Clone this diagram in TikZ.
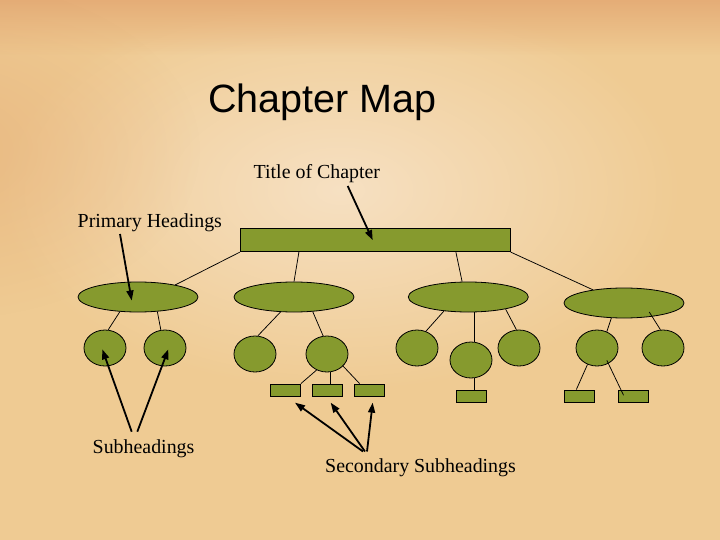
\documentclass[tikz,border=0pt]{standalone}
\usepackage{fontspec}
\setmainfont{Liberation Serif}
\newfontfamily\titlefont{Liberation Sans}
\usetikzlibrary{shapes.geometric,arrows.meta,fadings}
\definecolor{bgbase}{HTML}{EFCB93}
\definecolor{bglight}{HTML}{F6E0C2}
\definecolor{bgdark}{HTML}{E4AA74}
\definecolor{olive}{HTML}{869A2E}
\tikzfading[name=fadedown, top color=transparent!0, bottom color=transparent!100]
\tikzfading[name=fadeout, inner color=transparent!0, outer color=transparent!100]
\tikzset{
  shp/.style={draw=black, line width=0.8pt, fill=olive, inner sep=0pt},
  bigell/.style={shp, ellipse, minimum width=120pt, minimum height=30pt},
  sub/.style={shp, ellipse, minimum width=42pt, minimum height=36pt},
  toprect/.style={shp, rectangle, minimum width=270pt, minimum height=23pt},
  small/.style={shp, rectangle, minimum width=30.5pt, minimum height=12.7pt},
  link/.style={draw=black, line width=0.75pt},
  pointer/.style={draw=black, line width=1.8pt, -{Triangle[length=10pt,width=7pt]}},
  lbl/.style={inner sep=0pt, anchor=base west, font=\fontsize{19.9}{22}\selectfont}
}
\begin{document}
\begin{tikzpicture}[x=1pt, y=-1pt]
% background
\useasboundingbox (0,0) rectangle (720,540);
\fill[bgbase] (0,0) rectangle (720,540);
\begin{scope}
\clip (0,0) rectangle (720,540);
\shade[inner color=bglight, outer color=bgbase] (340,190) ellipse (340 and 200);
\fill[bgdark, opacity=0.9, path fading=fadedown] (0,0) rectangle (720,55);
\fill[bgdark, opacity=0.55, path fading=fadeout] (-60,150) ellipse (260 and 170);
\end{scope}

% title
\node[inner sep=0pt, anchor=base west, font=\titlefont\fontsize{39.5}{44}\selectfont] (title) at (208,112.7) {Chapter Map};

% shapes
\node[toprect] (top) at (375.3,240.2) {};
\node[bigell] (e1) at (138,297) {};
\node[bigell] (e2) at (294,297) {};
\node[bigell] (e3) at (468.3,297) {};
\node[bigell] (e4) at (624,303) {};
\node[sub] (c1) at (105,348) {};
\node[sub] (c2) at (165,348) {};
\node[sub] (c3) at (255,354) {};
\node[sub] (c4) at (327,354) {};
\node[sub] (c5) at (417,348) {};
\node[sub] (c6) at (471,360) {};
\node[sub] (c7) at (519,348) {};
\node[sub] (c8) at (597,348) {};
\node[sub] (c9) at (663,348) {};
\node[small] (r1) at (285.3,390.3) {};
\node[small] (r2) at (327.5,390.3) {};
\node[small] (r3) at (369.2,390.3) {};
\node[small] (r4) at (471.5,396.3) {};
\node[small] (r5) at (579.3,396.3) {};
\node[small] (r6) at (633.5,396.3) {};

% thin connectors
\draw[link] (top.south west) -- (e1.18);
\draw[link] ([xshift=59pt]top.south west) -- (e2.north);
\draw[link] ([xshift=216pt]top.south west) -- (e3.112);
\draw[link] (top.south east) -- (e4.157);
\draw[link] (e1.-141) -- (c1.80);
\draw[link] (e1.-37) -- (c2.103);
\draw[link] (e2.-132) -- (c3.81);
\draw[link] (e2.-38) -- (c4.102);
\draw[link] (c4.-123) -- (r1.north east);
\draw[link] ([xshift=3pt]c4.south) -- ([xshift=2.5pt]r2.north);
\draw[link] (c4.-37) -- ([xshift=6pt]r3.north west);
\draw[link] (e3.-150) -- (c5.62);
\draw[link] ([xshift=6pt]e3.south) -- ([xshift=3.3pt]c6.north);
\draw[link] (e3.-18) -- (c7.98);
\draw[link] ([xshift=3.3pt]c6.south) -- ([xshift=2.8pt]r4.north);
\draw[link] (e4.-130) -- (c8.59);
\draw[link] ([yshift=5pt]e4.-29) -- (c9.98);
\draw[link] (c8.-120) -- ([xshift=12.7pt]r5.north west);
\draw[link] ([yshift=4pt]c8.-59) -- ([xshift=5.7pt,yshift=-5.7pt]r6.north west);

% labels
\node[lbl] (ltitle) at (253.5,179) {Title of Chapter};
\node[lbl] (lprim) at (77.5,227.5) {Primary Headings};
\node[lbl] (lsub) at (92.5,453.3) {Subheadings};
\node[lbl] (lsec) at (325,472.3) {Secondary Subheadings};

% pointer start points
\coordinate (pt) at (347.7,186);
\coordinate (pp) at (120,234);
\coordinate (ps1) at (131.7,431.7);
\coordinate (ps2) at (137.3,431.7);
\coordinate (pq1) at (363,451.5);
\coordinate (pq2) at (365,451.5);
\coordinate (pq3) at (367,451.5);

% pointers
\draw[pointer] (pt) -- ([xshift=-2.6pt]top.center);
\draw[pointer] (pp) -- ([xshift=-6.3pt,yshift=-3.5pt]e1.center);
\draw[pointer] (ps1) -- ([xshift=-2.7pt,yshift=-1.3pt]c1.center);
\draw[pointer] (ps2) -- ([xshift=3.3pt,yshift=-1.3pt]c2.center);
\draw[pointer] (pq1) -- ([xshift=9.7pt,yshift=-5.6pt]r1.south);
\draw[pointer] (pq2) -- ([xshift=3.2pt,yshift=-5.6pt]r2.south);
\draw[pointer] (pq3) -- ([xshift=3.5pt,yshift=-5.6pt]r3.south);
\end{tikzpicture}
\end{document}
